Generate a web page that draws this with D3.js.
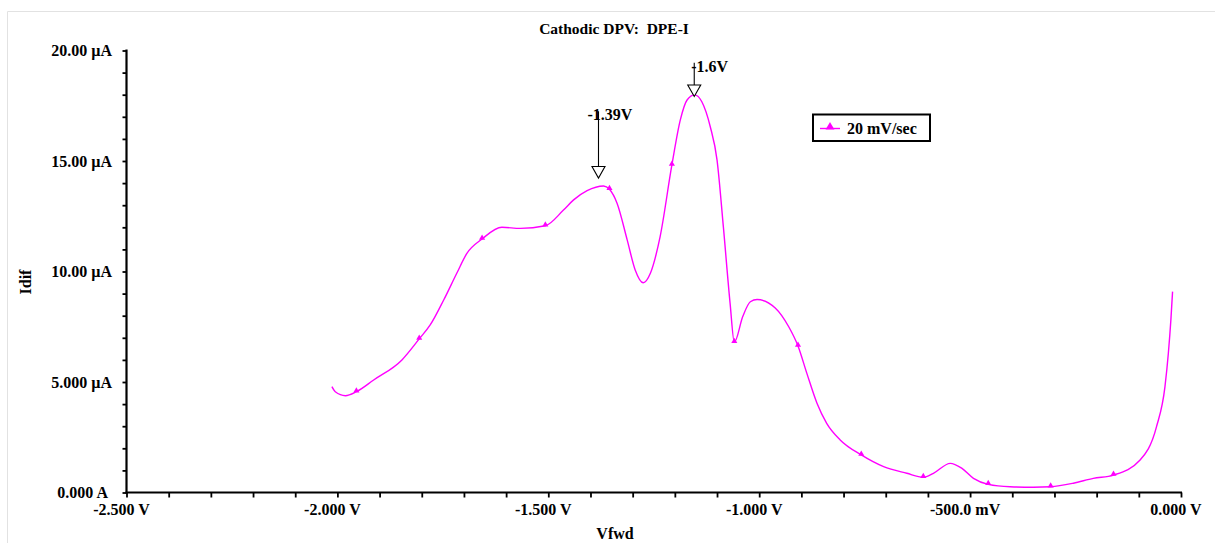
<!DOCTYPE html>
<html>
<head>
<meta charset="utf-8">
<script src="https://cdn.jsdelivr.net/npm/d3@7"></script>
<style>
  html, body { margin: 0; padding: 0; background: #fff; }
  svg { display: block; }
  text { font-family: "Liberation Serif", "Times New Roman", serif; font-weight: bold; fill: #000; white-space: pre; }
</style>
</head>
<body>
<svg id="chart" width="1215" height="543"></svg>
<script>
// ---- data ----
const title = "Cathodic DPV:  DPE-I";
const xTitle = "Vfwd";
const yTitle = "Idif";
const seriesName = "20 mV/sec";

// forward potential (V) and differential current (µA)
const vfwd = [-2.013,-2.005,-1.981,-1.955,-1.914,-1.847,-1.806,-1.780,-1.748,-1.717,-1.693,-1.657,-1.610,-1.566,-1.507,
  -1.464,-1.440,-1.408,-1.369,-1.355,-1.337,-1.313,-1.294,-1.275,-1.258,-1.235,-1.207,-1.187,-1.171,-1.153,-1.136,
  -1.116,-1.100,-1.085,-1.069,-1.059,-1.039,-1.021,-1.005,-0.962,-0.930,-0.908,-0.887,-0.863,-0.840,-0.808,-0.758,
  -0.705,-0.650,-0.611,-0.587,-0.547,-0.520,-0.492,-0.457,-0.405,-0.350,-0.309,-0.255,-0.208,-0.160,-0.097,-0.058,
  -0.038,-0.030,-0.024,-0.020];
const idif = [4.79,4.56,4.38,4.56,5.09,6.00,6.95,7.58,8.71,9.92,10.82,11.47,12.00,11.95,12.07,
  12.78,13.24,13.66,13.87,13.72,13.09,11.43,10.07,9.49,9.92,11.57,14.82,16.86,17.76,17.99,17.68,
  16.55,15.05,12.03,8.56,6.80,7.96,8.63,8.73,8.35,7.50,6.63,5.39,4.04,3.13,2.38,1.70,
  1.17,0.87,0.69,0.87,1.32,1.10,0.64,0.37,0.26,0.24,0.26,0.42,0.64,0.79,1.47,2.98,
  4.79,6.30,7.81,9.09];

// triangle markers
const markerV = [-1.955,-1.806,-1.657,-1.507,-1.355,-1.207,-1.059,-0.908,-0.758,-0.611,-0.457,-0.309,-0.160];
const markerI = [4.56,6.95,11.47,12.07,13.72,14.82,6.80,6.63,1.70,0.69,0.37,0.26,0.79];

// axis ticks
const xTickValues = [-2.5,-2.0,-1.5,-1.0,-0.5,0];
const xTickLabels = ["-2.500 V","-2.000 V","-1.500 V","-1.000 V","-500.0 mV","0.000 V"];
const yTickValues = [0,5,10,15,20];
const yTickLabels = ["0.000 A","5.000 µA","10.00 µA","15.00 µA","20.00 µA"];

// peak annotations
const annoLabels = ["-1.39V","-1.6V"];
const annoV = [-1.381,-1.154];
const annoTipI = [14.23,17.92];
const annoTopI = [17.25,19.45];

// ---- layout ----
(function draw() {
const svg = d3.select("#chart");
const pLeft = 126.5, pRight = 1181, pTop = 50.5, pBottom = 492.5;
const magenta = "#ff00ff";

const x = d3.scaleLinear().domain([-2.5, 0]).range([pLeft, pRight]);
const y = d3.scaleLinear().domain([0, 20]).range([pBottom, pTop]);

// frame lines (light)
svg.append("line").attr("x1",7.5).attr("x2",1215).attr("y1",11.5).attr("y2",11.5).attr("stroke","#e2e2e2").attr("stroke-width",1);
svg.append("line").attr("x1",7.5).attr("x2",7.5).attr("y1",11.5).attr("y2",543).attr("stroke","#e2e2e2").attr("stroke-width",1);

// title
svg.append("text").attr("x",614).attr("y",34).attr("text-anchor","middle").attr("font-size",15.5).text(title);

// x axis
const xAxis = d3.axisBottom(x)
  .tickValues(d3.range(0, 26).map(k => -2.5 + k * 0.1))
  .tickSize(5).tickFormat("");
const gx = svg.append("g").attr("transform", `translate(0,${pBottom})`).call(xAxis);
gx.select(".domain").attr("stroke","#000").attr("stroke-width",2.2).attr("d", `M${pLeft-1},0H${pRight+1}`);
gx.selectAll(".tick line").attr("stroke","#000").attr("stroke-width",1.8);
svg.append("g").selectAll("text").data(xTickValues).join("text")
  .attr("x", d => x(d) - 5).attr("y", 515)
  .attr("text-anchor","middle").attr("font-size",16)
  .text((d,i) => xTickLabels[i]);

// y axis
const yAxis = d3.axisLeft(y)
  .tickValues(d3.range(0, 21))
  .tickSize(4).tickFormat("");
const gy = svg.append("g").attr("transform", `translate(${pLeft},0)`).call(yAxis);
gy.select(".domain").attr("stroke","#000").attr("stroke-width",2.2).attr("d", `M0,${pTop-1}V${pBottom+1}`);
gy.selectAll(".tick line").attr("stroke","#000").attr("stroke-width",1.8);
svg.append("g").selectAll("text").data(yTickValues).join("text")
  .attr("x", (d,i) => i === 0 ? 108 : 112)
  .attr("y", d => y(d) + 5.5)
  .attr("text-anchor","end").attr("font-size",16)
  .text((d,i) => yTickLabels[i]);

// axis titles
svg.append("text").attr("x",615).attr("y",539).attr("text-anchor","middle").attr("font-size",16).text(xTitle);
svg.append("text").attr("transform","translate(31,282) rotate(-90)").attr("text-anchor","middle").attr("font-size",16).text(yTitle);

// curve
const pts = vfwd.map((v,i) => [v, idif[i]]);
const line = d3.line().x(d => x(d[0])).y(d => y(d[1])).curve(d3.curveMonotoneX);
svg.append("path").datum(pts).attr("d", line)
  .attr("fill","none").attr("stroke",magenta).attr("stroke-width",1.4);

// markers
const tri = d3.symbol().type(d3.symbolTriangle).size(16);
svg.append("g").selectAll("path").data(markerV).join("path")
  .attr("transform", (d,i) => `translate(${x(d)},${y(markerI[i]) - 1})`)
  .attr("d", tri).attr("fill", magenta);

// annotations
const annoDx = [-11, -3];
annoLabels.forEach((lab, i) => {
  const ax = x(annoV[i]);
  const tipY = y(annoTipI[i]);
  const topY = y(annoTopI[i]);
  const headH = 11.5, headW = 6.5;
  svg.append("line").attr("x1",ax).attr("x2",ax).attr("y1",topY).attr("y2",tipY - headH)
    .attr("stroke","#000").attr("stroke-width",1.1);
  svg.append("path")
    .attr("d", `M${ax-headW},${tipY-headH}L${ax+headW},${tipY-headH}L${ax},${tipY}Z`)
    .attr("fill","#fff").attr("stroke","#000").attr("stroke-width",1.1);
  svg.append("text").attr("x", ax + annoDx[i]).attr("y", topY + 9)
    .attr("font-size",16).text(lab);
});

// legend
const lg = svg.append("g");
lg.append("rect").attr("x",813).attr("y",114.5).attr("width",117).attr("height",26.5)
  .attr("fill","#fff").attr("stroke","#000").attr("stroke-width",2);
lg.append("line").attr("x1",820).attr("x2",840).attr("y1",128.5).attr("y2",128.5)
  .attr("stroke",magenta).attr("stroke-width",1.4);
lg.append("path").attr("transform","translate(830,127)").attr("d", d3.symbol().type(d3.symbolTriangle).size(34)).attr("fill",magenta);
lg.append("text").attr("x",847).attr("y",133.5).attr("font-size",16).text(seriesName);
})();
</script>
</body>
</html>
